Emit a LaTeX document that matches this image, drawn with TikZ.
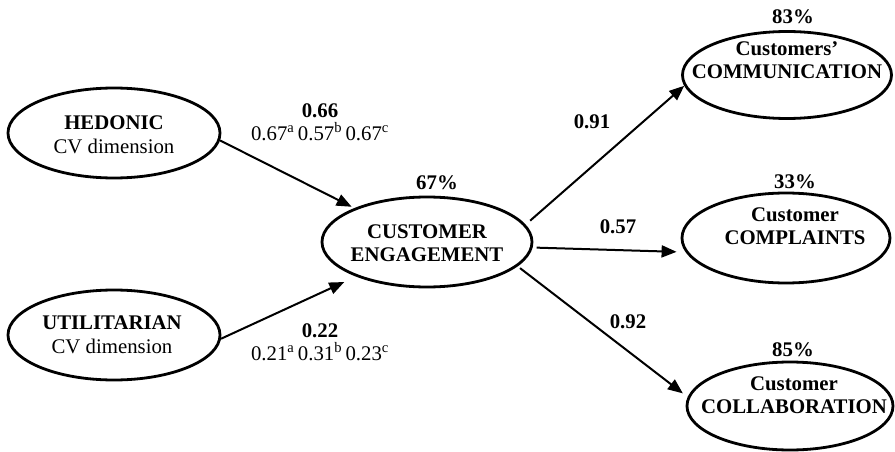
\documentclass[tikz,border=0pt]{standalone}
\usepackage{fontspec}
\setmainfont{Liberation Serif}
\usetikzlibrary{shapes.geometric,arrows.meta}
\begin{document}
\begin{tikzpicture}[x=1pt,y=-1pt,
  ell/.style={ellipse,draw,line width=2.8pt,inner sep=0pt},
  txt/.style={inner sep=0pt,align=center,font=\fontsize{20.8}{23.5}\selectfont},
  btxt/.style={txt,font=\fontsize{20.8}{23.5}\selectfont\bfseries},
  arr/.style={line width=2pt,-{Triangle[length=15pt,width=12pt]}}]
\useasboundingbox (0,0) rectangle (895,452);
% ellipses
\node[ell,minimum width=212pt,minimum height=90pt] (hed) at (114,133) {};
\node[ell,minimum width=212pt,minimum height=90pt] (util) at (114,335) {};
\node[ell,minimum width=210pt,minimum height=90pt] (eng) at (427,242) {};
\node[ell,minimum width=209pt,minimum height=87pt] (comm) at (787,75) {};
\node[ell,minimum width=208pt,minimum height=90pt] (compl) at (786,238) {};
\node[ell,minimum width=206pt,minimum height=88pt] (collab) at (790,406) {};
% texts in ellipses
\node[txt] (hedt) at (114,135) {\textbf{HEDONIC}\\CV dimension};
\node[txt] (utilt) at (112,335) {\textbf{UTILITARIAN}\\CV dimension};
\node[btxt] (engt) at (427,243) {CUSTOMER\\ENGAGEMENT};
\node[btxt] (commt) at (787,60) {Customers’\\COMMUNICATION};
\node[btxt] (complt) at (795,226) {Customer\\COMPLAINTS};
\node[btxt] (collabt) at (794,395) {Customer\\COLLABORATION};
% percentages
\node[btxt] (p67) at (437,183) {67\%};
\node[btxt] (p83) at (793,17) {83\%};
\node[btxt] (p33) at (795,182) {33\%};
\node[btxt] (p85) at (793,350) {85\%};
% path labels
\node[txt] (l66) at (320,122) {\textbf{0.66}\\0.67\textsuperscript{a}\,0.57\textsuperscript{b}\,0.67\textsuperscript{c}};
\node[txt] (l22) at (320,342) {\textbf{0.22}\\0.21\textsuperscript{a}\,0.31\textsuperscript{b}\,0.23\textsuperscript{c}};
\node[btxt] (l91) at (592,122) {0.91};
\node[btxt] (l57) at (618,227) {0.57};
\node[btxt] (l92) at (628,322) {0.92};
% connectors
\draw[arr,shorten >=3pt] (hed.-4) -- (eng.155);
\draw[arr,shorten >=13pt] (util.-2) -- (eng.206);
\draw[arr,shorten <=6pt] (eng.10) -- (comm.186);
\draw[arr,shorten <=4pt,shorten >=9pt] (eng.-3) -- (compl.188);
\draw[arr,shorten <=3pt,shorten >=6pt] (eng.-15) -- (collab.175);
\end{tikzpicture}
\end{document}
